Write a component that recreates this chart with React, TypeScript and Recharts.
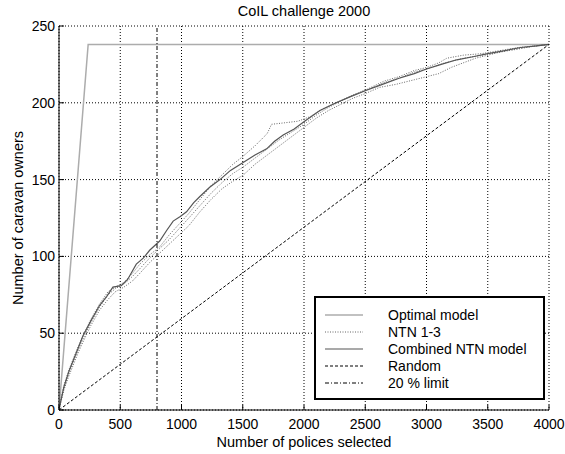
import React from 'react';
import { LineChart, Line, XAxis, YAxis, CartesianGrid, Legend } from 'recharts';

const xTicks = [0, 500, 1000, 1500, 2000, 2500, 3000, 3500, 4000];
const yTicks = [0, 50, 100, 150, 200, 250];
const legendOrder = ['Optimal model', 'NTN 1-3', 'Combined NTN model', 'Random', '20 % limit'];

const optimalX = [0, 238, 4000];
const optimalY = [0, 238, 238];

const randomX = [0, 4000];
const randomY = [0, 238];

const limitX = [800, 800];
const limitY = [0, 250];

const combinedX = [0, 15, 40, 80, 120, 160, 194, 260, 331, 390, 440, 508, 560, 631, 690, 740, 822, 880, 932, 990, 1041, 1100, 1150, 1230, 1314, 1400, 1500, 1600, 1695, 1760, 1830, 1920, 2005, 2130, 2262, 2380, 2505, 2640, 2776, 2900, 3000, 3120, 3247, 3380, 3500, 3640, 3769, 3900, 4000];
const combinedY = [0, 6, 15, 25, 33, 41, 48, 58, 68, 74, 80, 81, 85, 95, 99, 104, 110, 117, 123, 126, 129, 135, 139, 145, 150, 156, 161, 166, 170, 175, 179, 183, 188, 195, 200, 204, 208, 212, 216, 219, 222, 225, 228, 230, 232, 234, 236, 237, 238];

const ntn1X = [0, 15, 40, 80, 120, 160, 200, 260, 331, 400, 460, 530, 600, 660, 740, 820, 900, 980, 1060, 1150, 1240, 1330, 1420, 1500, 1600, 1700, 1735, 1843, 1950, 2050, 2150, 2262, 2400, 2520, 2650, 2776, 2900, 3000, 3100, 3165, 3300, 3450, 3600, 3750, 3880, 4000];
const ntn1Y = [0, 7, 16, 26, 34, 42, 49, 59, 69, 77, 80, 83, 89, 95, 101, 106, 114, 121, 128, 137, 146, 153, 160, 165, 172, 180, 186, 187, 188, 191, 196, 200, 205, 209, 214, 217, 221, 223, 226, 229, 231, 232, 234, 236, 237, 238];

const ntn2X = [0, 15, 40, 80, 120, 160, 200, 260, 331, 400, 460, 530, 600, 660, 740, 820, 900, 980, 1060, 1150, 1240, 1330, 1420, 1505, 1600, 1700, 1800, 1900, 2000, 2100, 2200, 2300, 2400, 2500, 2615, 2750, 2900, 3000, 3100, 3200, 3300, 3400, 3500, 3650, 3800, 4000];
const ntn2Y = [0, 5, 13, 22, 30, 38, 45, 55, 65, 72, 77, 80, 84, 89, 96, 102, 108, 114, 120, 129, 137, 144, 149, 153, 160, 166, 172, 178, 184, 190, 195, 199, 203, 206, 210, 212, 215, 217, 219, 223, 226, 229, 231, 234, 236, 238];

const ntn3X = [0, 15, 40, 80, 120, 160, 200, 260, 331, 400, 460, 530, 600, 660, 740, 820, 900, 980, 1060, 1150, 1240, 1330, 1420, 1500, 1600, 1700, 1800, 1900, 2000, 2100, 2200, 2300, 2400, 2500, 2650, 2776, 2900, 3000, 3150, 3300, 3450, 3600, 3750, 3880, 4000];
const ntn3Y = [0, 6, 14, 24, 32, 40, 47, 57, 67, 75, 79, 82, 87, 92, 99, 105, 111, 118, 125, 133, 141, 148, 154, 158, 164, 170, 176, 181, 186, 192, 197, 201, 205, 208, 213, 216, 220, 222, 226, 229, 231, 233, 235, 237, 238];

const toPoints = (xs: number[], ys: number[]) => xs.map((x, i) => ({ x, y: ys[i] }));

const FONT = '"Liberation Sans", Arial, Helvetica, sans-serif';
const TICK_FS = 14;
const TITLE_FS = 14.5;
const LABEL_FS = 14.5;
const LEGEND_FS = 14;

const BottomTick = (props: any) => {
  const { x, y, payload } = props;
  return (
    <g>
      <line x1={x} x2={x} y1={y} y2={y - 5} stroke="#000" />
      <text x={x} y={y + 19} textAnchor="middle" fontSize={TICK_FS} fontFamily={FONT} fill="#000">
        {payload.value}
      </text>
    </g>
  );
};

const TopTick = (props: any) => {
  const { x, y } = props;
  return <line x1={x} x2={x} y1={y} y2={y + 5} stroke="#000" />;
};

const LeftTick = (props: any) => {
  const { x, y, payload } = props;
  return (
    <g>
      <line x1={x} x2={x + 5} y1={y} y2={y} stroke="#000" />
      <text x={x - 4} y={y + 5} textAnchor="end" fontSize={TICK_FS} fontFamily={FONT} fill="#000">
        {payload.value}
      </text>
    </g>
  );
};

const RightTick = (props: any) => {
  const { x, y } = props;
  return <line x1={x} x2={x - 5} y1={y} y2={y} stroke="#000" />;
};

const LegendBox = (props: any) => {
  const raw = (props.payload || []).filter((e: any) => e.type !== 'none');
  const items = legendOrder
    .map((n) => raw.find((e: any) => e.value === n))
    .filter(Boolean);
  return (
    <svg width={231} height={104} style={{ display: 'block' }}>
      <rect x={1} y={1} width={229} height={102} fill="#fff" stroke="#000" strokeWidth={2} />
      {items.map((e: any, i: number) => {
        const yy = 19 + i * 17;
        return (
          <g key={i}>
            <line
              x1={11}
              x2={49}
              y1={yy}
              y2={yy}
              stroke={e.color}
              strokeWidth={e.payload?.strokeWidth ?? 1}
              strokeDasharray={e.payload?.strokeDasharray}
            />
            <text x={74} y={yy + 5} fontSize={LEGEND_FS} fontFamily={FONT} fill="#000">
              {e.value}
            </text>
          </g>
        );
      })}
    </svg>
  );
};

export default function App() {
  return (
    <div style={{ position: 'absolute', left: 0, top: 0, width: 565, height: 454, background: '#fff' }}>
      <svg width={565} height={24} style={{ position: 'absolute', left: 0, top: 0 }}>
        <text x={304} y={16} textAnchor="middle" fontSize={TITLE_FS} fontFamily={FONT} fill="#000">
          CoIL challenge 2000
        </text>
      </svg>
      <LineChart
        width={565}
        height={454}
        margin={{ top: 26, right: 16, bottom: 0, left: 0 }}
        style={{ fontFamily: FONT }}
      >
        <CartesianGrid xAxisId="b" yAxisId="l" stroke="#000" strokeDasharray="1 2" />
        <XAxis
          xAxisId="b"
          type="number"
          dataKey="x"
          domain={[0, 4000]}
          ticks={xTicks}
          interval={0}
          height={44}
          tickSize={0}
          tickMargin={0}
          tickLine={false}
          tick={<BottomTick />}
          axisLine={{ stroke: '#000' }}
          allowDataOverflow
          label={{ value: 'Number of polices selected', position: 'insideBottom', offset: 7, fontSize: LABEL_FS, fill: '#000', fontFamily: FONT }}
        />
        <XAxis
          xAxisId="t"
          orientation="top"
          type="number"
          dataKey="x"
          domain={[0, 4000]}
          ticks={xTicks}
          interval={0}
          height={0}
          tickSize={0}
          tickMargin={0}
          tickLine={false}
          tick={<TopTick />}
          axisLine={{ stroke: '#000' }}
          allowDataOverflow
        />
        <YAxis
          yAxisId="l"
          type="number"
          domain={[0, 250]}
          ticks={yTicks}
          interval={0}
          width={59}
          tickSize={0}
          tickMargin={0}
          tickLine={false}
          tick={<LeftTick />}
          axisLine={{ stroke: '#000' }}
          allowDataOverflow
          label={{ value: 'Number of caravan owners', angle: -90, position: 'insideLeft', offset: 18, fontSize: LABEL_FS, fill: '#000', fontFamily: FONT, style: { textAnchor: 'middle' } }}
        />
        <YAxis
          yAxisId="r"
          orientation="right"
          type="number"
          domain={[0, 250]}
          ticks={yTicks}
          interval={0}
          width={0}
          tickSize={0}
          tickMargin={0}
          tickLine={false}
          tick={<RightTick />}
          axisLine={{ stroke: '#000' }}
          allowDataOverflow
        />
        <Legend
          layout="vertical"
          align="center"
          verticalAlign="middle"
          content={<LegendBox />}
          wrapperStyle={{ position: 'absolute', left: 314, top: 296, width: 231, height: 104 }}
        />
        <Line xAxisId="b" yAxisId="l" data={toPoints(optimalX, optimalY)} dataKey="y" name="Optimal model" stroke="#acacac" strokeWidth={1.5} dot={false} activeDot={false} isAnimationActive={false} />
        <Line xAxisId="b" yAxisId="l" data={toPoints(ntn1X, ntn1Y)} dataKey="y" name="NTN 1-3" stroke="#666" strokeWidth={1} strokeDasharray="1 1.5" dot={false} activeDot={false} isAnimationActive={false} />
        <Line xAxisId="b" yAxisId="l" data={toPoints(ntn2X, ntn2Y)} dataKey="y" name="NTN 2" legendType="none" stroke="#666" strokeWidth={1} strokeDasharray="1 1.5" dot={false} activeDot={false} isAnimationActive={false} />
        <Line xAxisId="b" yAxisId="l" data={toPoints(ntn3X, ntn3Y)} dataKey="y" name="NTN 3" legendType="none" stroke="#666" strokeWidth={1} strokeDasharray="1 1.5" dot={false} activeDot={false} isAnimationActive={false} />
        <Line xAxisId="b" yAxisId="l" data={toPoints(combinedX, combinedY)} dataKey="y" name="Combined NTN model" stroke="#555" strokeWidth={1.2} dot={false} activeDot={false} isAnimationActive={false} />
        <Line xAxisId="b" yAxisId="l" data={toPoints(randomX, randomY)} dataKey="y" name="Random" stroke="#000" strokeWidth={1} strokeDasharray="3 2" dot={false} activeDot={false} isAnimationActive={false} />
        <Line xAxisId="b" yAxisId="l" data={toPoints(limitX, limitY)} dataKey="y" name="20 % limit" stroke="#000" strokeWidth={1} strokeDasharray="4 2 1 2" dot={false} activeDot={false} isAnimationActive={false} />
      </LineChart>
    </div>
  );
}
